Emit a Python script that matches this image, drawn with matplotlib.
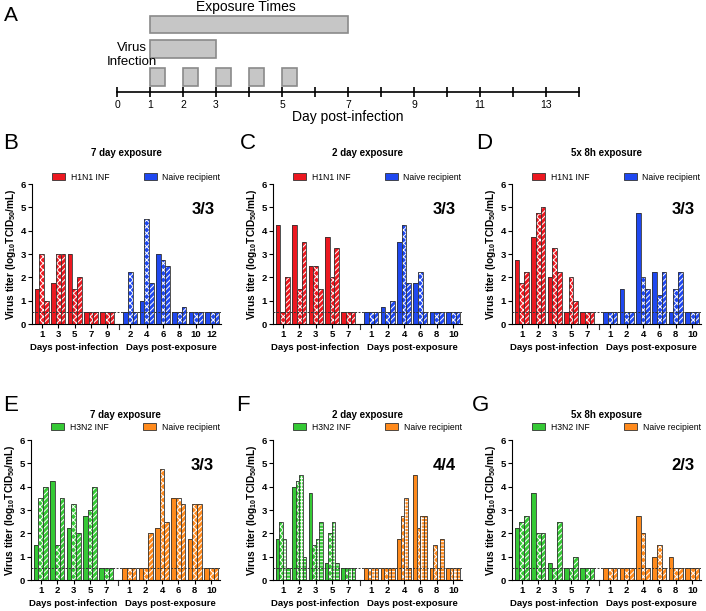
import matplotlib.pyplot as plt
import matplotlib.transforms as mtransforms
from matplotlib.patches import Patch

plt.rcParams['font.family'] = ['Liberation Sans', 'DejaVu Sans']
plt.rcParams['mathtext.fontset'] = 'custom'
plt.rcParams['mathtext.rm'] = 'Liberation Sans'
plt.rcParams['mathtext.bf'] = 'Liberation Sans:bold'
plt.rcParams['hatch.linewidth'] = 0.7

# ---- panel A : exposure schedule ----
timeline_ticks = list(range(15))
timeline_labels = ['0', '1', '2', '3', '', '5', '', '7', '', '9', '', '11', '', '13', '']
long_exposure = (1, 7)
short_exposure = (1, 3)
pulse_starts = [1, 2, 3, 4, 5]
pulse_len = 0.45

# ---- panels B-G : titers per animal ----
b_inf_days = [1, 3, 5, 7, 9]
b_inf = [[1.5, 3.0, 1.0], [1.75, 3.0, 3.0], [3.0, 1.5, 2.0], [0.5, 0.5, 0.5], [0.5, 0.5, 0.5]]
b_rec_days = [2, 4, 6, 8, 10, 12]
b_rec = [[0.5, 2.25, 0.5], [1.0, 4.5, 1.75], [3.0, 2.75, 2.5], [0.5, 0.5, 0.75], [0.5, 0.5, 0.5], [0.5, 0.5, 0.5]]

c_inf_days = [1, 2, 3, 5, 7]
c_inf = [[4.25, 0.5, 2.0], [4.25, 1.5, 3.5], [2.5, 2.5, 1.5], [3.75, 2.0, 3.25], [0.5, 0.5, 0.5]]
c_rec_days = [1, 2, 4, 6, 8, 10]
c_rec = [[0.5, 0.5, 0.5], [0.75, 0.5, 1.0], [3.5, 4.25, 1.75], [1.75, 2.25, 0.5], [0.5, 0.5, 0.5], [0.5, 0.5, 0.5]]

d_inf_days = [1, 2, 3, 5, 7]
d_inf = [[2.75, 1.75, 2.25], [3.75, 4.75, 5.0], [2.0, 3.25, 2.25], [0.5, 2.0, 1.0], [0.5, 0.5, 0.5]]
d_rec_days = [1, 2, 4, 6, 8, 10]
d_rec = [[0.5, 0.5, 0.5], [1.5, 0.5, 0.5], [4.75, 2.0, 1.5], [2.25, 1.25, 2.25], [0.5, 1.5, 2.25], [0.5, 0.5, 0.5]]

e_inf_days = [1, 2, 3, 5, 7]
e_inf = [[1.5, 3.5, 4.0], [4.25, 1.5, 3.5], [2.25, 3.25, 2.0], [2.75, 3.0, 4.0], [0.5, 0.5, 0.5]]
e_rec_days = [1, 2, 4, 6, 8, 10]
e_rec = [[0.5, 0.5, 0.5], [0.5, 0.5, 2.0], [2.25, 4.75, 2.5], [3.5, 3.5, 3.25], [1.75, 3.25, 3.25], [0.5, 0.5, 0.5]]

f_inf_days = [1, 2, 3, 5, 7]
f_inf = [[1.75, 2.5, 1.75, 0.5], [4.0, 4.25, 4.5, 1.0], [3.75, 1.5, 1.75, 2.5], [0.75, 2.0, 2.5, 0.75], [0.5, 0.5, 0.5, 0.5]]
f_rec_days = [1, 2, 4, 6, 8, 10]
f_rec = [[0.5, 0.5, 0.5, 0.5], [0.5, 0.5, 0.5, 0.5], [1.75, 2.75, 3.5, 0.5], [4.5, 2.25, 2.75, 2.75], [0.5, 1.5, 0.5, 1.75], [0.5, 0.5, 0.5, 0.5]]

g_inf_days = [1, 2, 3, 5, 7]
g_inf = [[2.25, 2.5, 2.75], [3.75, 2.0, 2.0], [0.75, 0.5, 2.5], [0.5, 0.5, 1.0], [0.5, 0.5, 0.5]]
g_rec_days = [1, 2, 4, 6, 8, 10]
g_rec = [[0.5, 0.5, 0.5], [0.5, 0.5, 0.5], [2.75, 2.0, 0.5], [1.0, 1.5, 0.5], [1.0, 0.5, 0.5], [0.5, 0.5, 0.5]]

lod = 0.5
RED, BLUE = '#ec1820', '#1f48f0'
GREEN, ORANGE = '#35c935', '#ff8a1c'

fig = plt.figure(figsize=(7.06, 6.11), dpi=100)

# ---------------- panel A ----------------
axA = fig.add_axes([117 / 706, 1 - 92 / 611, 462 / 706, 86 / 611])
axA.set_xlim(0, 14)
axA.set_ylim(0, 86)
box = dict(color='#c6c6c6', edgecolor='#8a8a8a', linewidth=1.2)
axA.bar(long_exposure[0], 17, long_exposure[1] - long_exposure[0], bottom=59, align='edge', **box)
axA.bar(short_exposure[0], 18, short_exposure[1] - short_exposure[0], bottom=34, align='edge', **box)
axA.bar(pulse_starts, 18, pulse_len, bottom=6, align='edge', **box)
for s in ['top', 'right', 'left']:
    axA.spines[s].set_visible(False)
axA.spines['bottom'].set_linewidth(1.2)
axA.set_yticks([])
axA.set_xticks(timeline_ticks)
axA.set_xticklabels(timeline_labels, fontsize=7.5)
axA.tick_params(axis='x', direction='inout', length=7, width=1.2, pad=2)
axA.set_xlabel('Day post-infection', fontsize=10, labelpad=0)
axA.text(3.9, 85, 'Exposure Times', ha='center', va='center', fontsize=10)
axA.text(0.45, 37, 'Virus\nInfection', ha='center', va='center', fontsize=9.5, linespacing=1.25)
fig.text(0.016, 0.975, 'A', fontsize=15, ha='center', va='center')


def panel(left, bottom, inf_days, inf, rec_days, rec, c_inf, c_rec, strain, title, frac, letter,
          title_y, leg_y, letter_x, letter_y):
    ax = fig.add_axes([left, bottom, 0.268, 0.229])
    n = len(inf[0])
    gw = 0.86
    bw = gw / n
    if n == 3:
        hatches = ['', 'xxxxx', '//////']
    else:
        hatches = ['', 'xxxxx', '+++++', '-----']
    gap = 1.4
    x_inf = list(range(len(inf_days)))
    x_rec = [x_inf[-1] + gap + i for i in range(len(rec_days))]
    for xs, vals, col in [(x_inf, inf, c_inf), (x_rec, rec, c_rec)]:
        for x, grp in zip(xs, vals):
            for k, v in enumerate(grp):
                xp = x - gw / 2 + bw * (k + 0.5)
                ax.bar(xp, v, bw, color=col, edgecolor='white', hatch=hatches[k], linewidth=0, zorder=2)
                ax.bar(xp, v, bw, fill=False, edgecolor='#333333', linewidth=0.6, zorder=2)
    xmax = x_rec[-1] + 0.55
    ax.set_xlim(-0.6, xmax)
    ax.set_ylim(0, 6)
    ax.axhline(lod, color='#333333', lw=0.7, ls=(0, (2, 1.5)), zorder=3)
    sep = (x_inf[-1] + x_rec[0]) / 2
    ax.plot([sep, sep], [0, -0.22], color='#333333', lw=0.8, clip_on=False)
    for s in ['top', 'right']:
        ax.spines[s].set_visible(False)
    for s in ['left', 'bottom']:
        ax.spines[s].set_linewidth(0.8)
    ax.set_xticks(x_inf + x_rec)
    ax.set_xticklabels([str(d) for d in inf_days + rec_days], fontsize=6.8, weight='bold')
    ax.set_yticks(range(7))
    ax.set_yticklabels([str(v) for v in range(7)], fontsize=6.8, weight='bold')
    ax.tick_params(length=3, width=0.8, pad=1.5)
    ax.set_ylabel(r'Virus titer (log$_{\mathbf{10}}$TCID$_{\mathbf{50}}$/mL)', fontsize=7.3,
                  weight='bold', labelpad=1.5)
    ax.text(sum(x_inf) / len(x_inf), -1.02, 'Days post-infection', ha='center', va='center',
            fontsize=6.8, weight='bold')
    ax.text(sum(x_rec) / len(x_rec), -1.02, 'Days post-exposure', ha='center', va='center',
            fontsize=6.8, weight='bold')
    ax.text(xmax - 0.4, 4.9, frac, ha='right', va='center', fontsize=12, weight='bold')
    blend = mtransforms.blended_transform_factory(ax.transAxes, fig.transFigure)
    ax.text(0.5, title_y, title, transform=blend, ha='center', va='center', fontsize=7, weight='bold')
    handles = [Patch(facecolor=c_inf, edgecolor='#333333', linewidth=0.6, label=strain + ' INF'),
               Patch(facecolor=c_rec, edgecolor='#333333', linewidth=0.6, label='Naive recipient')]
    ax.legend(handles=handles, loc='center', bbox_to_anchor=(0.55, leg_y), bbox_transform=blend,
              ncol=2, frameon=False, fontsize=6.2, handlelength=1.6, handleheight=0.9,
              columnspacing=4.0, handletextpad=0.6)
    fig.text(letter_x, letter_y, letter, fontsize=16, ha='center', va='center')
    return ax


top_b, bot_b = 1 - 324 / 611, 1 - 580 / 611
panel(32 / 706, top_b, b_inf_days, b_inf, b_rec_days, b_rec, RED, BLUE, 'H1N1', '7 day exposure', '3/3',
      'B', 0.7496, 0.7103, 0.015, 0.765)
panel(273 / 706, top_b, c_inf_days, c_inf, c_rec_days, c_rec, RED, BLUE, 'H1N1', '2 day exposure', '3/3',
      'C', 0.7496, 0.7103, 0.351, 0.765)
panel(512 / 706, top_b, d_inf_days, d_inf, d_rec_days, d_rec, RED, BLUE, 'H1N1', '5x 8h exposure', '3/3',
      'D', 0.7496, 0.7103, 0.686, 0.765)
panel(31 / 706, bot_b, e_inf_days, e_inf, e_rec_days, e_rec, GREEN, ORANGE, 'H3N2', '7 day exposure', '3/3',
      'E', 0.3208, 0.3011, 0.015, 0.336)
panel(273 / 706, bot_b, f_inf_days, f_inf, f_rec_days, f_rec, GREEN, ORANGE, 'H3N2', '2 day exposure', '4/4',
      'F', 0.3208, 0.3011, 0.344, 0.336)
panel(512 / 706, bot_b, g_inf_days, g_inf, g_rec_days, g_rec, GREEN, ORANGE, 'H3N2', '5x 8h exposure', '2/3',
      'G', 0.3208, 0.3011, 0.68, 0.336)

fig.savefig('out.png', dpi=100)
